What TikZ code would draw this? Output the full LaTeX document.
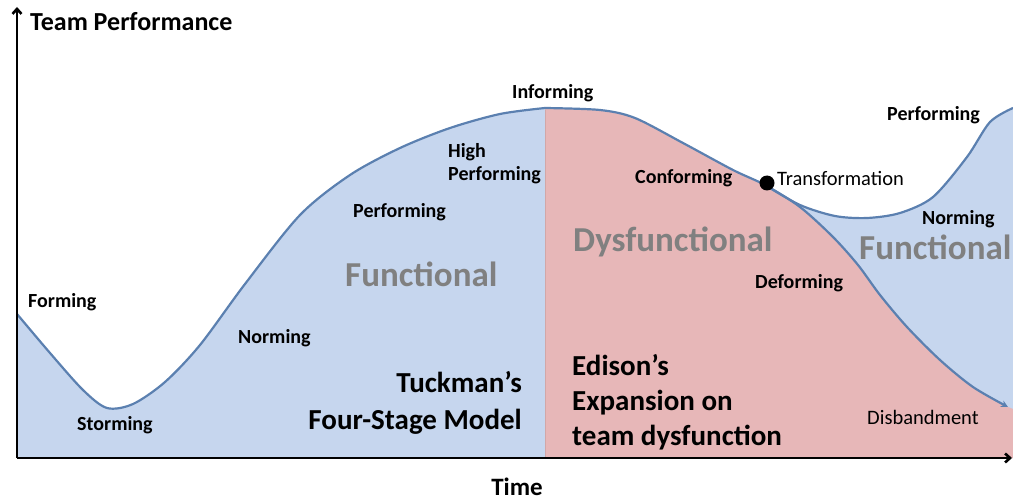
\documentclass[tikz,border=0pt]{standalone}
\usepackage{fontspec}
\setmainfont{Carlito}
\usetikzlibrary{arrows.meta}
\definecolor{bfill}{HTML}{C6D6EE}
\definecolor{rfill}{HTML}{E7B7B8}
\definecolor{cline}{HTML}{5B80B0}
\definecolor{gtxt}{HTML}{808080}
\begin{document}
\begin{tikzpicture}[x=1pt,y=-1pt,
  lbl/.style={font=\bfseries\fontsize{20}{23}\selectfont, inner sep=0, anchor=west},
  reg/.style={font=\fontsize{20.5}{23}\selectfont, inner sep=0, anchor=west},
  big/.style={font=\bfseries\fontsize{35}{38}\selectfont, text=gtxt, inner sep=0, anchor=west},
  model/.style={font=\bfseries\fontsize{29}{37}\selectfont, inner sep=0},
  curve/.style={draw=cline, line width=2.2pt},
  axis/.style={line width=2.6pt, -{Straight Barb[length=5pt,width=9pt]}}]
\useasboundingbox (0,0) rectangle (1013,500);
\coordinate (O) at (17,458);
\coordinate (ytop) at (17,7);
\coordinate (xend) at (1012,458);
% fills
\fill[bfill] (17,458) -- plot[smooth] coordinates {(17,314) (50,353) (83,390) (107,408) (133,404) (165,382) (200,345) (245,284) (300,215) (350,175) (400,148) (450,128) (500,114) (545,108)} -- (545,458) -- cycle;
\fill[bfill] (765,458) -- (765,185) -- plot[smooth] coordinates {(765,185) (800,205) (835,216) (867,218) (900,213) (933,197) (967,157) (990,122) (1013,108)} -- (1013,458) -- cycle;
\fill[rfill] (545,458) -- plot[smooth] coordinates {(545,108) (600,110) (635,118) (683,143) (733,170) (765,185) (800,207) (833,237) (858,265) (880,295) (907,327) (940,360) (973,387) (1008,407)} -- (1013,409) -- (1013,458) -- cycle;
\draw[draw=rfill!85!black!60!rfill, line width=0.6pt] (545,110) -- (545,458);
% curves
\draw[curve] plot[smooth] coordinates {(17,314) (50,353) (83,390) (107,408) (133,404) (165,382) (200,345) (245,284) (300,215) (350,175) (400,148) (450,128) (500,114) (545,108)};
\draw[curve] plot[smooth] coordinates {(765,185) (800,205) (835,216) (867,218) (900,213) (933,197) (967,157) (990,122) (1013,108)};
\draw[curve, -{Stealth[length=7pt,width=7pt]}] plot[smooth] coordinates {(545,108) (600,110) (635,118) (683,143) (733,170) (765,185) (800,207) (833,237) (858,265) (880,295) (907,327) (940,360) (973,387) (1008,407)};
% axes
\draw[axis] (O) -- (ytop);
\draw[axis] (O) -- (xend);
\node[font=\bfseries\fontsize{26}{28}\selectfont, inner sep=0, anchor=west] (yl) at (30,22) {Team Performance};
\node[font=\bfseries\fontsize{25}{27}\selectfont, inner sep=0] (xl) at (517,487) {Time};
% dot
\node[circle, fill=black, minimum size=15pt, inner sep=0] (tr) at (767,183) {};
% labels
\node[lbl] (forming) at (28,302) {Forming};
\node[lbl] (storming) at (77,425) {Storming};
\node[lbl] (norming) at (238,338) {Norming};
\node[lbl] (perf) at (353,212) {Performing};
\node[lbl, align=left, font=\bfseries\fontsize{20}{23}\selectfont] (hp) at (448,164) {High\\Performing};
\node[lbl] (inf) at (512,93) {Informing};
\node[big] (func1) at (345,274) {Functional};
\node[model, align=right, anchor=east] (tuck) at (522,403) {Tuckman’s\\Four-Stage Model};
\node[lbl] (conf) at (635,178) {Conforming};
\node[reg] (trans) at (777,178) {Transformation};
\node[lbl] (perf2) at (887,115) {Performing};
\node[lbl] (norm2) at (922,219) {Norming};
\node[big] (dys) at (573,242) {Dysfunctional};
\node[big] (func2) at (859,247) {Functional};
\node[lbl] (deform) at (755,283) {Deforming};
\node[model, align=left, anchor=west, font=\bfseries\fontsize{29}{35}\selectfont] (edi) at (572,402) {Edison’s\\Expansion on\\team dysfunction};
\node[reg] (disb) at (867,417) {Disbandment};
\end{tikzpicture}
\end{document}
